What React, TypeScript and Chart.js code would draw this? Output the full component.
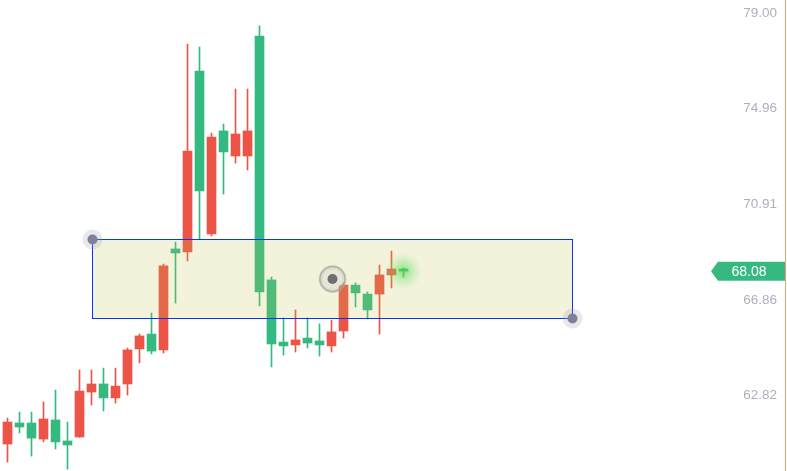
import { useEffect, useRef } from 'react';
import { Chart, registerables } from 'chart.js';

Chart.register(...registerables);

// candle index (one per bar)
const candleIndex = [
  0, 1, 2, 3, 4, 5, 6, 7, 8, 9, 10, 11, 12, 13, 14, 15, 16,
  17, 18, 19, 20, 21, 22, 23, 24, 25, 26, 27, 28, 29, 30, 31, 32, 33,
];
const opens = [
  60.77, 61.66, 61.66, 60.98, 61.79, 60.9, 61.07, 62.97, 63.31, 62.72, 63.31, 64.79,
  65.42, 64.75, 69.02, 68.89, 76.54, 69.65, 74.01, 72.95, 72.95, 78.02, 67.71, 65.08,
  64.96, 65.25, 65.13, 64.92, 65.55, 67.49, 67.11, 67.11, 67.92, 68.17,
];
const highs = [
  61.87, 62.12, 62.12, 62.55, 63.05, 61.7, 63.9, 63.9, 63.98, 63.98, 64.83, 65.42,
  66.31, 68.38, 69.31, 77.68, 77.56, 73.92, 74.3, 75.78, 75.78, 78.45, 67.83, 66.1,
  66.44, 66.1, 65.85, 66.01, 67.58, 67.58, 67.2, 68.34, 68.93, 68.21,
];
const lows = [
  60.01, 61.24, 60.26, 60.86, 60.56, 59.71, 61.05, 62.42, 62.17, 62.5, 62.84, 64.2,
  64.58, 64.62, 66.73, 68.51, 69.44, 69.57, 71.34, 72.65, 72.36, 66.61, 64.03, 64.53,
  64.66, 64.83, 64.49, 64.66, 65.25, 66.56, 66.06, 65.42, 67.37, 67.83,
];
const closes = [
  61.7, 61.49, 61.02, 61.83, 60.86, 60.73, 63.01, 63.31, 62.72, 63.22, 64.75, 65.34,
  64.7, 68.3, 68.85, 73.16, 71.47, 73.75, 73.12, 73.88, 74.01, 67.2, 65.0, 64.92,
  65.17, 65.04, 64.96, 65.51, 67.49, 67.16, 66.44, 67.92, 68.17, 68.08,
];

// right axis tick labels
const yTickValues = [79.0, 74.96, 70.91, 66.86, 62.82];

// drawn rectangle zone (index range, price range)
const zoneX = [7.06, 47.06];
const zoneY = [69.44, 66.1];

const lastPrice = 68.08;

const UP = '#eb5447';
const DOWN = '#34ba80';

export default function App() {
  const ref = useRef<HTMLCanvasElement>(null);

  useEffect(() => {
    if (!ref.current) return;
    const colors = closes.map((c, i) => (c >= opens[i] ? UP : DOWN));

    const overlay = {
      id: 'overlay',
      afterDatasetsDraw(chart: any) {
        const { ctx } = chart;
        const xs = chart.scales.x;
        const ys = chart.scales.y;
        const x1 = Math.round(xs.getPixelForValue(zoneX[0])) + 0.5;
        const x2 = Math.round(xs.getPixelForValue(zoneX[1])) + 0.5;
        const y1 = Math.round(ys.getPixelForValue(zoneY[0])) + 0.5;
        const y2 = Math.round(ys.getPixelForValue(zoneY[1])) + 0.5;
        ctx.save();
        ctx.fillStyle = 'rgba(195,195,80,0.2)';
        ctx.fillRect(x1, y1, x2 - x1, y2 - y1);
        ctx.strokeStyle = '#0a32ff';
        ctx.lineWidth = 1;
        ctx.strokeRect(x1, y1, x2 - x1, y2 - y1);

        // corner handles
        const corner = (cx: number, cy: number) => {
          ctx.beginPath();
          ctx.arc(cx, cy, 10, 0, Math.PI * 2);
          ctx.fillStyle = 'rgba(160,162,180,0.25)';
          ctx.fill();
          ctx.beginPath();
          ctx.arc(cx, cy, 5, 0, Math.PI * 2);
          ctx.fillStyle = '#7d8098';
          ctx.fill();
        };
        corner(x1, y1);
        corner(x2, y2);

        // center handle
        const mx = (x1 + x2) / 2;
        const my = (y1 + y2) / 2;
        ctx.beginPath();
        ctx.arc(mx, my, 14, 0, Math.PI * 2);
        ctx.fillStyle = 'rgba(190,190,180,0.45)';
        ctx.fill();
        ctx.beginPath();
        ctx.arc(mx, my, 12.5, 0, Math.PI * 2);
        ctx.strokeStyle = 'rgba(150,150,140,0.6)';
        ctx.lineWidth = 1.5;
        ctx.stroke();
        ctx.beginPath();
        ctx.arc(mx, my, 10, 0, Math.PI * 2);
        ctx.fillStyle = 'rgba(235,235,225,0.7)';
        ctx.fill();
        ctx.beginPath();
        ctx.arc(mx, my, 5, 0, Math.PI * 2);
        ctx.fillStyle = '#6f6f6f';
        ctx.fill();

        // glow on last candle
        const last = candleIndex[candleIndex.length - 1];
        const gx = xs.getPixelForValue(last);
        const gy = ys.getPixelForValue(lastPrice);
        const g = ctx.createRadialGradient(gx, gy, 0, gx, gy, 19);
        g.addColorStop(0, 'rgba(60,215,60,0.6)');
        g.addColorStop(0.45, 'rgba(90,220,90,0.3)');
        g.addColorStop(1, 'rgba(120,230,120,0)');
        ctx.fillStyle = g;
        ctx.beginPath();
        ctx.arc(gx, gy, 19, 0, Math.PI * 2);
        ctx.fill();
        ctx.restore();
      },
      afterDraw(chart: any) {
        const { ctx, chartArea } = chart;
        const ys = chart.scales.y;
        ctx.save();
        ctx.font = '13.5px "Liberation Sans", Arial, sans-serif';
        ctx.fillStyle = 'rgb(172,175,190)';
        ctx.textAlign = 'right';
        ctx.textBaseline = 'middle';
        yTickValues.forEach((v) => {
          ctx.fillText(v.toFixed(2), chartArea.right - 8, ys.getPixelForValue(v));
        });

        // last price tag
        const yc = ys.getPixelForValue(lastPrice);
        const r = chartArea.right;
        const h = 9.5;
        ctx.beginPath();
        ctx.moveTo(711, yc);
        ctx.lineTo(718, yc - h);
        ctx.lineTo(r, yc - h);
        ctx.lineTo(r, yc + h);
        ctx.lineTo(718, yc + h);
        ctx.closePath();
        ctx.fillStyle = '#35b981';
        ctx.fill();
        ctx.fillStyle = '#ffffff';
        ctx.textAlign = 'center';
        ctx.font = '14px "Liberation Sans", Arial, sans-serif';
        ctx.fillText(lastPrice.toFixed(2), 749, yc + 0.5);
        ctx.restore();
      },
    };

    const chart = new Chart(ref.current, {
      type: 'bar',
      data: {
        datasets: [
          {
            data: candleIndex.map((i) => ({ x: i, y: [lows[i], highs[i]] })) as any,
            backgroundColor: colors,
            barThickness: 1,
            grouped: false,
            clip: false as any,
            borderWidth: 0,
          },
          {
            data: candleIndex.map((i) => ({ x: i, y: [opens[i], closes[i]] })) as any,
            backgroundColor: colors,
            barThickness: 9,
            grouped: false,
            clip: false as any,
            borderWidth: 0,
          },
        ],
      },
      options: {
        responsive: false,
        animation: false,
        layout: { padding: { left: 0, top: 0, bottom: 0, right: 2 } },
        plugins: { legend: { display: false }, tooltip: { enabled: false } },
        scales: {
          x: {
            type: 'linear',
            display: false,
            offset: false,
            min: -0.625,
            max: 64.79,
          },
          y: {
            position: 'right',
            beginAtZero: false,
            min: 59.63,
            max: 79.545,
            ticks: { display: false },
            grid: { display: true, color: 'rgba(0,0,0,0)', drawTicks: false },
            border: { display: true, color: '#f0a070', width: 1 },
          },
        },
      },
      plugins: [overlay],
    });
    return () => chart.destroy();
  }, []);

  return (
    <div style={{ position: 'fixed', left: 0, top: 0, width: 787, height: 471, background: '#ffffff' }}>
      <canvas ref={ref} width={787} height={471} style={{ display: 'block' }} />
    </div>
  );
}
